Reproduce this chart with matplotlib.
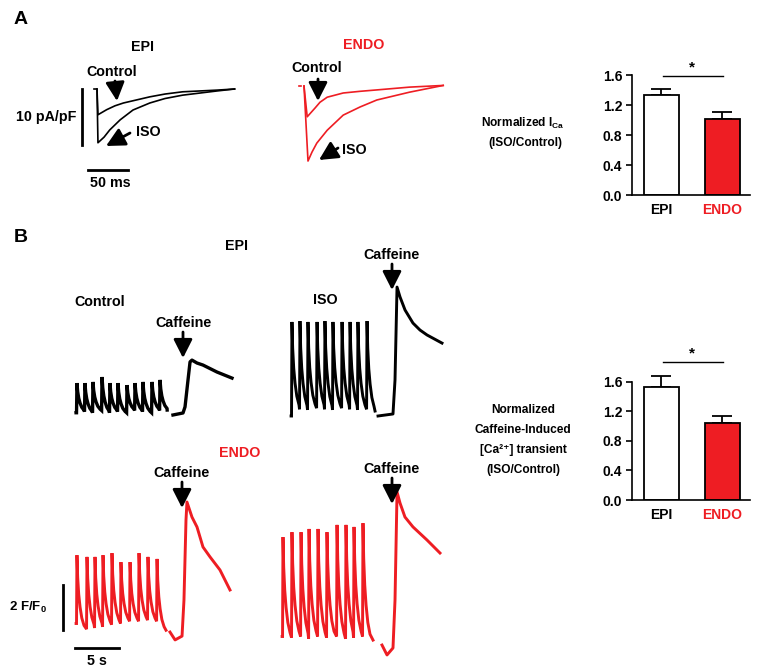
import matplotlib
matplotlib.use('Agg')
import matplotlib.pyplot as plt

plt.rcParams['font.family'] = ['Liberation Sans', 'DejaVu Sans']
plt.rcParams['font.weight'] = 'bold'
plt.rcParams['mathtext.default'] = 'regular'

RED = '#ee1d23'
W, H = 763, 671

# ---------------- data ----------------
# Panel A: I_Ca traces (time in ms, current in pA/pF)
epi_ctl_t = [0, 1.2, 6, 12, 22.5, 33, 45, 66, 85, 107, 150, 172]
epi_ctl_i = [0, -4.6, -4.2, -3.7, -3.0, -2.5, -2.1, -1.4, -0.9, -0.5, -0.2, 0]
epi_iso_t = [0, 1.2, 8.8, 16, 29, 45, 66, 85, 107, 150, 172]
epi_iso_i = [0, -9.6, -8.6, -7.3, -5.5, -3.75, -2.5, -1.7, -1.1, -0.35, 0]
endo_ctl_t = [0, 4, 9, 14, 20, 29, 49, 70, 91, 132, 174]
endo_ctl_i = [0, -5.5, -4.7, -3.9, -2.9, -2.0, -1.25, -0.95, -0.7, -0.2, 0.1]
endo_iso_t = [0, 5, 10, 16, 29, 49, 70, 91, 132, 174]
endo_iso_i = [0, -13.4, -11.8, -10.2, -7.9, -5.2, -3.75, -2.5, -1.1, 0.1]

# bar charts (ISO/Control ratios)
groups = ['EPI', 'ENDO']
ica_mean = [1.33, 1.01]
ica_sem = [0.09, 0.10]
caf_mean = [1.53, 1.05]
caf_sem = [0.15, 0.09]

# Panel B: Ca transients (time in s, F/F0)
decay_dt = [0.08, 0.2, 0.35, 0.55, 0.8]
decay_frac = [0.7, 0.47, 0.3, 0.15, 0.05]

epi_ctl_peak_t = [0.45, 1.36, 2.27, 3.30, 4.20, 5.11, 6.14, 7.05, 7.95, 8.98, 9.89]
epi_ctl_peak_v = [2.42, 2.42, 2.47, 2.69, 2.42, 2.42, 2.33, 2.42, 2.47, 2.47, 2.56]
epi_ctl_trough = [1.1, 1.15, 1.1, 1.2, 1.1, 1.15, 1.1, 1.2, 1.15, 1.1, 1.2, 1.22]
epi_ctl_end = 10.7
epi_ctl_caf_t = [11.36, 12.5, 12.73, 13.07, 13.3, 13.52, 14.09, 14.77, 16.36, 18.07]
epi_ctl_caf_v = [1.0, 1.09, 1.36, 2.56, 3.36, 3.44, 3.31, 3.22, 2.91, 2.64]

epi_iso_peak_t = [0.45, 1.36, 2.27, 3.30, 4.20, 5.11, 6.14, 7.05, 7.95, 8.98]
epi_iso_peak_v = [5.18, 5.22, 5.18, 5.18, 5.22, 5.18, 5.18, 5.18, 5.18, 5.22]
epi_iso_trough = [1.0, 1.3, 1.27, 1.35, 1.3, 1.27, 1.35, 1.3, 1.27, 1.3, 1.22]
epi_iso_end = 9.89
epi_iso_caf_t = [10.23, 11.93, 12.16, 12.39, 12.73, 13.3, 14.2, 15.0, 15.8, 17.5]
epi_iso_caf_v = [1.0, 1.09, 2.6, 6.73, 6.29, 5.71, 5.13, 4.82, 4.6, 4.24]

endo_ctl_peak_t = [0.45, 1.59, 2.5, 3.41, 4.43, 5.45, 6.48, 7.5, 8.52, 9.55]
endo_ctl_peak_v = [4.64, 4.56, 4.56, 4.64, 4.73, 4.33, 4.33, 4.73, 4.56, 4.47]
endo_ctl_trough = [1.6, 1.35, 1.4, 1.45, 1.55, 1.6, 1.7, 1.7, 1.75, 1.7, 1.3]
endo_ctl_end = 10.57
endo_ctl_caf_t = [11.02, 11.6, 12.39, 12.61, 12.84, 12.95, 13.52, 14.09, 14.77, 15.57, 16.7, 17.84]
endo_ctl_caf_v = [1.22, 0.87, 1.04, 2.64, 6.2, 7.0, 6.33, 5.89, 5.0, 4.56, 3.98, 3.09]

endo_iso_peak_t = [0.34, 1.36, 2.39, 3.30, 4.32, 5.34, 6.48, 7.5, 8.41, 9.43]
endo_iso_peak_v = [6.02, 6.24, 6.24, 6.38, 6.38, 6.24, 6.56, 6.56, 6.47, 6.64]
endo_iso_trough = [1.6, 1.55, 1.6, 1.5, 1.6, 1.55, 1.6, 1.5, 1.55, 1.6, 1.44]
endo_iso_end = 10.57
endo_iso_caf_t = [11.59, 12.16, 12.84, 13.07, 13.3, 13.64, 14.2, 15.11, 16.7, 18.18]
endo_iso_caf_v = [1.22, 0.78, 1.09, 3.22, 8.02, 7.53, 6.91, 6.47, 5.89, 5.31]


# ---------------- helpers ----------------
fig = plt.figure(figsize=(W / 100, H / 100), dpi=100)


def px_axes(left, top, width, height):
    return fig.add_axes([left / W, 1 - (top + height) / H, width / W, height / H])


def trace_axes(left, top, width, height, x_zero, y_zero, v_zero, px_t, px_v):
    ax = px_axes(left, top, width, height)
    t_min = (left - x_zero) / px_t
    v_max = v_zero + (y_zero - top) / px_v
    ax.set_xlim(t_min, t_min + width / px_t)
    ax.set_ylim(v_max - height / px_v, v_max)
    ax.axis('off')
    return ax


def beat_trace(peak_t, peak_v, trough_v, end_t):
    t, v = [peak_t[0] - 0.1], [trough_v[0]]
    for k, (tp, vp) in enumerate(zip(peak_t, peak_v)):
        t += [tp - 0.05, tp]
        v += [trough_v[k], vp]
        stop = peak_t[k + 1] - 0.05 if k + 1 < len(peak_t) else end_t
        base = trough_v[k + 1]
        for dt, fr in zip(decay_dt, decay_frac):
            if tp + dt < stop:
                t.append(tp + dt)
                v.append(base + fr * (vp - base))
    t.append(end_t)
    v.append(trough_v[-1])
    return t, v


# ---------------- panel A traces ----------------
ax_epi = trace_axes(55, 60, 195, 140, 97, 89, 0, 0.8, 5.6)
ax_epi.plot([-3.5, -1.5], [0, 0], color='k', lw=1.2)
ax_epi.plot(epi_iso_t, epi_iso_i, color='k', lw=1.2)
ax_epi.plot(epi_ctl_t, epi_ctl_i, color='k', lw=1.2)
ax_epi.plot([-18.75, -18.75], [0, -10], color='k', lw=2)
ax_epi.plot([-11.25, 38.75], [-14.46, -14.46], color='k', lw=2)

ax_endo = trace_axes(270, 60, 190, 130, 304, 86, 0, 0.8, 5.6)
ax_endo.plot([-6, -4], [0, 0], color=RED, lw=1.2)
ax_endo.plot(endo_iso_t, endo_iso_i, color=RED, lw=1.2)
ax_endo.plot(endo_ctl_t, endo_ctl_i, color=RED, lw=1.2)

# ---------------- panel B traces ----------------
panels = [
    ((60, 280, 190, 150, 73, 415), 'k', epi_ctl_peak_t, epi_ctl_peak_v, epi_ctl_trough,
     epi_ctl_end, epi_ctl_caf_t, epi_ctl_caf_v, 2.4),
    ((270, 270, 190, 160, 288, 416), 'k', epi_iso_peak_t, epi_iso_peak_v, epi_iso_trough,
     epi_iso_end, epi_iso_caf_t, epi_iso_caf_v, 2.1),
    ((55, 480, 200, 185, 73, 637), RED, endo_ctl_peak_t, endo_ctl_peak_v, endo_ctl_trough,
     endo_ctl_end, endo_ctl_caf_t, endo_ctl_caf_v, 2.1),
    ((270, 480, 190, 185, 280, 650), RED, endo_iso_peak_t, endo_iso_peak_v, endo_iso_trough,
     endo_iso_end, endo_iso_caf_t, endo_iso_caf_v, 2.1),
]
ca_axes = []
for rect, col, pt, pv, tr, te, ct, cv, lw in panels:
    ax = trace_axes(*rect, 1.0, 8.8, 22.5)
    bt, bv = beat_trace(pt, pv, tr, te)
    ax.plot(bt, bv, color=col, lw=lw, solid_joinstyle='miter')
    ax.plot(ct, cv, color=col, lw=lw)
    ca_axes.append(ax)

# scale bars for Ca traces (2 F/F0, 5 s)
ca_axes[2].plot([-1.14, -1.14], [1.31, 3.31], color='k', lw=2)
ca_axes[2].plot([0.23, 5.23], [0.51, 0.51], color='k', lw=2)


# ---------------- bar charts ----------------
def bar_panel(rect, means, sems, ymax, sig_y):
    ax = px_axes(*rect)
    x = [0, 1]
    ax.errorbar(x, means, yerr=[[0, 0], sems], fmt='none', ecolor='k',
                elinewidth=1.3, capsize=7, capthick=1.3, zorder=1)
    ax.bar(x, means, width=0.57, color=['white', RED], edgecolor='k',
           linewidth=1.3, zorder=2)
    ax.plot([0.02, 1.01], [sig_y, sig_y], color='k', lw=1.0)
    ax.text(0.5, sig_y + 0.02, '*', ha='center', va='bottom', fontsize=11)
    ax.set_xlim(-0.48, 1.45)
    ax.set_ylim(0, ymax)
    ax.set_yticks([0, 0.4, 0.8, 1.2, 1.6])
    ax.set_yticklabels(['0.0', '0.4', '0.8', '1.2', '1.6'])
    ax.set_xticks(x)
    ax.set_xticklabels(groups)
    ax.get_xticklabels()[1].set_color(RED)
    for s in ['top', 'right']:
        ax.spines[s].set_visible(False)
    ax.spines['left'].set_bounds(0, 1.6)
    ax.spines['left'].set_linewidth(1.2)
    ax.spines['bottom'].set_linewidth(1.2)
    ax.tick_params(axis='y', direction='out', length=4, width=1.2, labelsize=10, pad=3)
    ax.tick_params(axis='x', length=0, labelsize=10, pad=6)
    ax.patch.set_visible(False)
    return ax


bar_panel((632, 63.75, 118, 131.25), ica_mean, ica_sem, 1.75, 1.59)
bar_panel((632, 345.1, 118, 154.9), caf_mean, caf_sem, 2.1, 1.87)

# ---------------- labels and arrows ----------------
ov = fig.add_axes([0, 0, 1, 1])
ov.set_xlim(0, W)
ov.set_ylim(H, 0)
ov.axis('off')


def label(x, y, s, size=10.3, color='k'):
    ov.text(x, y, s, ha='center', va='center', fontsize=size, color=color,
            fontweight='bold')


def arrow(x0, y0, x1, y1):
    ov.annotate('', xy=(x1, y1), xytext=(x0, y0),
                arrowprops=dict(arrowstyle='-|>,head_length=0.75,head_width=0.38',
                                lw=2, color='k', shrinkA=0, shrinkB=0,
                                mutation_scale=15))


label(21, 19, 'A', size=14)
label(21, 238, 'B', size=14)

label(142, 47, 'EPI')
label(112, 72, 'Control')
arrow(115, 81, 117, 101)
label(148, 132, 'ISO')
arrow(130, 133, 106, 146)
label(46, 117, '10 pA/pF')
label(110, 183, '50 ms')

label(364, 45, 'ENDO', color=RED)
label(317, 68, 'Control')
arrow(318, 79, 318, 101)
label(354, 150, 'ISO')
arrow(338, 148, 319, 160)

label(523, 123, 'Normalized I$_{Ca}$', size=8.6)
label(525, 143, '(ISO/Control)', size=8.6)

label(237, 246, 'EPI')
label(100, 302, 'Control')
label(325, 300, 'ISO')
label(183, 323, 'Caffeine')
arrow(183, 332, 183, 358)
label(392, 255, 'Caffeine')
arrow(392, 264, 392, 290)

label(240, 453, 'ENDO', color=RED)
label(182, 473, 'Caffeine')
arrow(182, 482, 182, 508)
label(392, 469, 'Caffeine')
arrow(392, 478, 392, 504)

label(28, 607, '2 F/F$_0$', size=9.5)
label(97, 661, '5 s')

label(523, 410, 'Normalized', size=8.6)
label(523, 430, 'Caffeine-Induced', size=8.6)
label(523, 450, '[Ca²⁺] transient', size=8.6)
label(523, 470, '(ISO/Control)', size=8.6)

fig.savefig('out.png', dpi=100)
